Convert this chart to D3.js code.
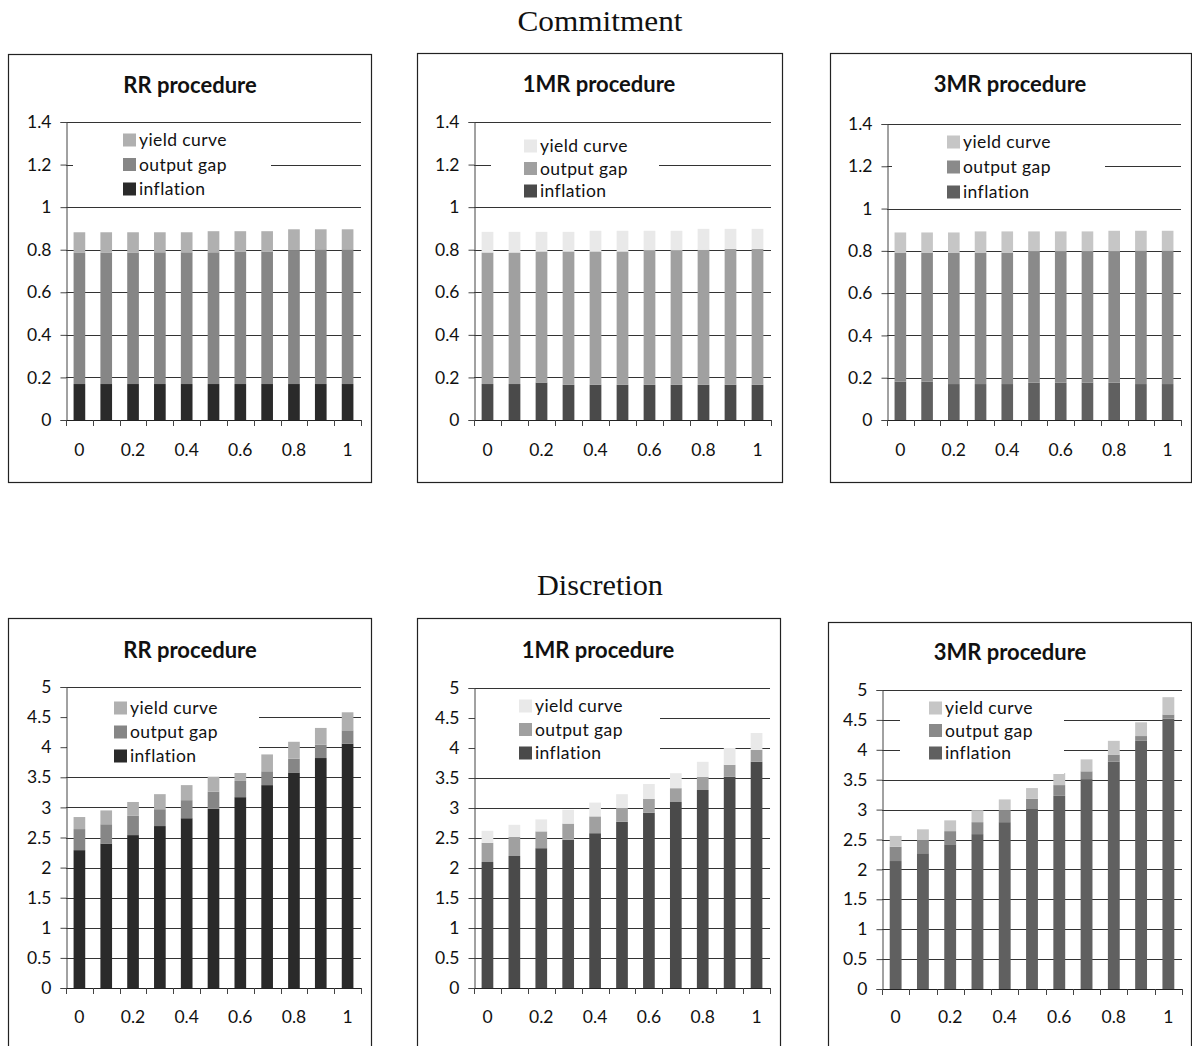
<!DOCTYPE html>
<html><head><meta charset="utf-8">
<script src="https://cdn.jsdelivr.net/npm/d3@7"></script>
<style>
html,body{margin:0;padding:0;background:#fff;}
svg{display:block;}
</style></head>
<body>
<svg id="chart" width="1192" height="1046"></svg>
<script>
// ---------- DATA ----------
const categories = ["0","0.1","0.2","0.3","0.4","0.5","0.6","0.7","0.8","0.9","1"];
const seriesNames = ["inflation","output gap","yield curve"];
const sectionTitles = ["Commitment","Discretion"];
const panelTitles = ["RR procedure","1MR procedure","3MR procedure"];
const yTicksCommitment = [0,0.2,0.4,0.6,0.8,1,1.2,1.4];
const yTicksDiscretion = [0,0.5,1,1.5,2,2.5,3,3.5,4,4.5,5];

// Commitment
const comRR_inflation = [0.169,0.169,0.169,0.169,0.169,0.169,0.169,0.169,0.169,0.169,0.169];
const comRR_outputGap = [0.616,0.616,0.616,0.619,0.619,0.619,0.623,0.623,0.629,0.633,0.633];
const comRR_yieldCurve = [0.097,0.097,0.097,0.094,0.094,0.099,0.095,0.095,0.098,0.094,0.094];

const com1MR_inflation = [0.169,0.169,0.176,0.165,0.165,0.165,0.165,0.165,0.165,0.165,0.165];
const com1MR_outputGap = [0.618,0.618,0.616,0.627,0.627,0.627,0.631,0.631,0.635,0.639,0.639];
const com1MR_yieldCurve = [0.097,0.097,0.092,0.092,0.097,0.097,0.093,0.093,0.098,0.094,0.094];

const com3MR_inflation = [0.181,0.181,0.170,0.170,0.170,0.177,0.177,0.177,0.177,0.170,0.170];
const com3MR_outputGap = [0.611,0.611,0.622,0.622,0.622,0.620,0.620,0.620,0.620,0.632,0.632];
const com3MR_yieldCurve = [0.095,0.095,0.095,0.100,0.100,0.095,0.095,0.095,0.098,0.093,0.093];

// Discretion
const disRR_inflation = [2.29,2.40,2.54,2.69,2.82,2.98,3.17,3.37,3.58,3.82,4.06];
const disRR_outputGap = [0.35,0.32,0.32,0.28,0.30,0.28,0.27,0.23,0.23,0.22,0.22];
const disRR_yieldCurve = [0.20,0.23,0.23,0.25,0.25,0.25,0.17,0.28,0.28,0.28,0.30];

const dis1MR_inflation = [2.10,2.20,2.33,2.47,2.58,2.77,2.92,3.10,3.30,3.52,3.77];
const dis1MR_outputGap = [0.32,0.32,0.28,0.27,0.28,0.23,0.23,0.23,0.22,0.20,0.20];
const dis1MR_yieldCurve = [0.20,0.20,0.20,0.23,0.23,0.23,0.25,0.25,0.25,0.28,0.28];

const dis3MR_inflation = [2.14,2.27,2.42,2.59,2.79,3.01,3.23,3.51,3.80,4.15,4.52];
const dis3MR_outputGap = [0.24,0.22,0.22,0.20,0.20,0.17,0.18,0.13,0.12,0.08,0.07];
const dis3MR_yieldCurve = [0.18,0.18,0.18,0.20,0.18,0.18,0.20,0.20,0.23,0.23,0.29];

// ---------- LAYOUT / STYLE ----------
const colorsRR  = ["#2a2a2a","#868686","#b0b0b0"];
const colors1MR = ["#4a4a4a","#a0a0a0","#e9e9e9"];
const colors3MR = ["#606060","#8a8a8a","#c6c6c6"];

const panels = [
  {title:panelTitles[0], data:[comRR_inflation,comRR_outputGap,comRR_yieldCurve], colors:colorsRR, ticks:yTicksCommitment, ymax:1.4,
   frame:[8,54,363,428], plot:[66,122,361,420], titleX:190, titleY:93, labelY:456,
   legend:{box:[73,128,271,201], sx:123, y0:140, dy:24.5}},
  {title:panelTitles[1], data:[com1MR_inflation,com1MR_outputGap,com1MR_yieldCurve], colors:colors1MR, ticks:yTicksCommitment, ymax:1.4,
   frame:[417,53,365,429], plot:[474,122,771,420], titleX:599, titleY:92, labelY:456,
   legend:{box:[491,128,659,202], sx:524, y0:146, dy:22.5}},
  {title:panelTitles[2], data:[com3MR_inflation,com3MR_outputGap,com3MR_yieldCurve], colors:colors3MR, ticks:yTicksCommitment, ymax:1.4,
   frame:[830,53,361,429], plot:[887,124,1181,420], titleX:1010, titleY:92, labelY:456,
   legend:{box:[892,130,1105,204], sx:947, y0:142, dy:25}},
  {title:panelTitles[0], data:[disRR_inflation,disRR_outputGap,disRR_yieldCurve], colors:colorsRR, ticks:yTicksDiscretion, ymax:5,
   frame:[8,618,363,460], plot:[66,687,361,988], titleX:190, titleY:658, labelY:1023,
   legend:{box:[67,692,259,773], sx:114, y0:708, dy:24}},
  {title:panelTitles[1], data:[dis1MR_inflation,dis1MR_outputGap,dis1MR_yieldCurve], colors:colors1MR, ticks:yTicksDiscretion, ymax:5,
   frame:[417,618,363,460], plot:[474,688,770,988], titleX:598, titleY:658, labelY:1023,
   legend:{box:[475,693,660,773], sx:519, y0:706, dy:23.5}},
  {title:panelTitles[2], data:[dis3MR_inflation,dis3MR_outputGap,dis3MR_yieldCurve], colors:colors3MR, ticks:yTicksDiscretion, ymax:5,
   frame:[828,622,363,460], plot:[882,690,1182,989], titleX:1010, titleY:660, labelY:1023,
   legend:{box:[900,695,1064,774], sx:929, y0:708, dy:22.5}}
];

const svg = d3.select("#chart");
const labelFont = "Lato, 'Open Sans', sans-serif";
const tickSize = 17.5;

// Section titles
svg.append("text").attr("x",600).attr("y",31).attr("text-anchor","middle")
  .attr("font-family","'Liberation Serif', serif").attr("font-size",30)
  .attr("textLength",165).attr("lengthAdjust","spacingAndGlyphs")
  .attr("fill","#111").text(sectionTitles[0]);
svg.append("text").attr("x",600).attr("y",595).attr("text-anchor","middle")
  .attr("font-family","'Liberation Serif', serif").attr("font-size",30)
  .attr("textLength",126).attr("lengthAdjust","spacingAndGlyphs")
  .attr("fill","#111").text(sectionTitles[1]);

const fmt = v => String(+v.toFixed(2));

panels.forEach(p => {
  const g = svg.append("g");
  const [fx,fy,fw,fh] = p.frame;
  g.append("rect").attr("x",fx+0.5).attr("y",fy+0.5).attr("width",fw).attr("height",fh)
    .attr("fill","#fff").attr("stroke","#222").attr("stroke-width",1.2);

  const [x0,y0,x1,y1] = p.plot;
  const x = d3.scaleBand().domain(categories).range([x0,x1]).paddingInner(1.3/2.3).paddingOuter(0.65/2.3);
  const y = d3.scaleLinear().domain([0,p.ymax]).range([y1,y0]);

  // gridlines
  g.append("g").selectAll("line").data(p.ticks.filter(t=>t>0)).join("line")
    .attr("x1",x0).attr("x2",x1)
    .attr("y1",d=>Math.round(y(d))+0.5).attr("y2",d=>Math.round(y(d))+0.5)
    .attr("stroke","#333").attr("stroke-width",1);

  // stacked bars
  const rows = categories.map((c,i)=>({cat:c, s0:p.data[0][i], s1:p.data[1][i], s2:p.data[2][i]}));
  const stack = d3.stack().keys(["s0","s1","s2"])(rows);
  stack.forEach((layer,li)=>{
    g.append("g").selectAll("rect").data(layer).join("rect")
      .attr("x",d=>x(d.data.cat)).attr("width",x.bandwidth())
      .attr("y",d=>y(d[1])).attr("height",d=>y(d[0])-y(d[1]))
      .attr("fill",p.colors[li]);
  });

  // legend background hides gridlines
  const L = p.legend;
  g.append("rect").attr("x",L.box[0]).attr("y",L.box[1]).attr("width",L.box[2]-L.box[0]).attr("height",L.box[3]-L.box[1]).attr("fill","#fff");
  const legendOrder = [2,1,0];
  legendOrder.forEach((si,k)=>{
    const cy = L.y0 + k*L.dy;
    g.append("rect").attr("x",L.sx).attr("y",cy-6.5).attr("width",13).attr("height",13).attr("fill",p.colors[si]);
    g.append("text").attr("x",L.sx+16).attr("y",cy).attr("dy","0.35em")
      .attr("font-family",labelFont).attr("font-size",17.5).attr("letter-spacing",0.4)
      .attr("fill","#111").text(seriesNames[si]);
  });

  // y axis
  const ya = g.append("g").attr("transform",`translate(${x0+0.5},0)`)
    .call(d3.axisLeft(y).tickValues(p.ticks).tickSize(6).tickPadding(9).tickFormat(fmt));
  ya.select(".domain").attr("stroke","#444");
  ya.selectAll(".tick line").attr("stroke","#444");
  ya.selectAll("text").attr("font-family",labelFont).attr("font-size",tickSize).attr("fill","#111");

  // x axis baseline
  g.append("line").attr("x1",x0).attr("x2",x1).attr("y1",y1+0.5).attr("y2",y1+0.5).attr("stroke","#222");
  // category boundary ticks
  const step = x.step();
  const bounds = d3.range(categories.length+1).map(i => x0 + i*step);
  g.append("g").selectAll("line").data(bounds).join("line")
    .attr("x1",d=>Math.round(d)+0.5).attr("x2",d=>Math.round(d)+0.5)
    .attr("y1",y1).attr("y2",y1+6).attr("stroke","#444");
  // category labels (every other)
  g.append("g").selectAll("text").data(categories.filter((c,i)=>i%2===0)).join("text")
    .attr("x",d=>x(d)+x.bandwidth()/2).attr("y",p.labelY).attr("text-anchor","middle")
    .attr("font-family",labelFont).attr("font-size",tickSize).attr("fill","#111").text(d=>d);

  // title
  g.append("text").attr("x",p.titleX).attr("y",p.titleY).attr("text-anchor","middle")
    .attr("font-family",labelFont).attr("font-weight","bold").attr("font-size",22)
    .attr("fill","#111").text(p.title);
});
</script>
</body></html>
